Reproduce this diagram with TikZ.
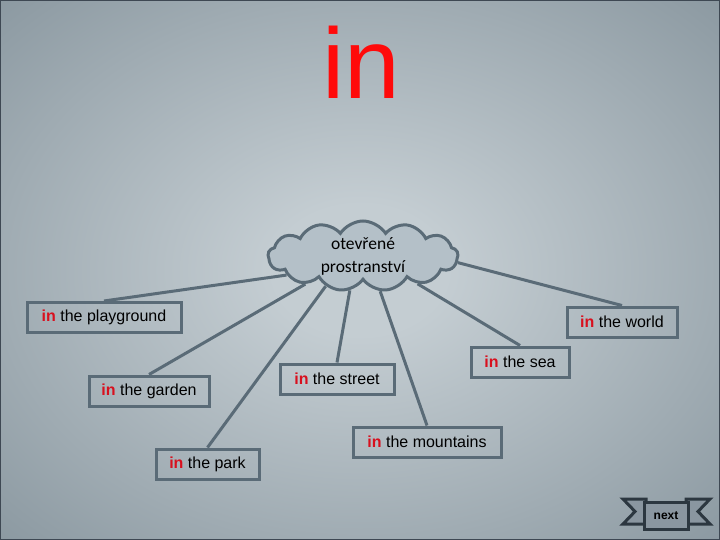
\documentclass[tikz,border=0pt]{standalone}
\usepackage{fontspec}
\setmainfont{Liberation Sans}
\newfontfamily\cloudfont{Carlito}
\usetikzlibrary{shapes.symbols}

\definecolor{bgin}{HTML}{C4CDD2}
\definecolor{bgout}{HTML}{6C7C86}
\definecolor{linec}{HTML}{5A6B77}
\definecolor{puff}{HTML}{B4C0C8}
\definecolor{titlered}{HTML}{FF0A0A}
\definecolor{inred}{HTML}{D8101E}
\definecolor{btnfill}{HTML}{8A96A0}
\definecolor{btnline}{HTML}{2C3740}
\definecolor{framec}{HTML}{3E4853}

\pgfdeclareradialshading{slide}{\pgfpoint{0bp}{0bp}}{color(0bp)=(bgin); color(6bp)=(bgin); color(52bp)=(bgout)}

\newcommand{\inphrase}[1]{{\color{inred}\bfseries in} #1}

\begin{document}
\begin{tikzpicture}[x=1pt, y=-1pt,
	place/.style={draw=linec, line width=3pt, minimum height=30pt, inner sep=0pt,
		font=\fontsize{16}{19}\selectfont},
	link/.style={draw=linec, line width=3pt}]
	\useasboundingbox (0,0) rectangle (720,540);
	% slide background
	\shade[shading=slide] (0,0) rectangle (720,540);
	\draw[framec, line width=2pt] (0,0) rectangle (720,540);
	% title
	\node[anchor=base, inner sep=0pt, text=titlered, font=\fontsize{100}{100}\selectfont] (title) at (361,99) {in};
	% the cloud in the middle
	\node[cloud, cloud puffs=13, cloud puff arc=115, cloud ignores aspect,
		minimum width=190pt, minimum height=70pt, inner sep=0pt,
		fill=puff, draw=linec, line width=3pt, align=center,
		font=\cloudfont\fontsize{17.5}{23}\selectfont] (cloud) at (363,256) {otevřené\\prostranství};
	% the places
	\node[place, minimum width=154pt] (play) at (104,317.5) {\inphrase{the playground}};
	\node[place, minimum width=110pt] (world) at (622,322) {\inphrase{the world}};
	\node[place, minimum width=120pt] (garden) at (149,391) {\inphrase{the garden}};
	\node[place, minimum width=114pt] (street) at (337,379) {\inphrase{the street}};
	\node[place, minimum width=98pt] (sea) at (520,362) {\inphrase{the sea}};
	\node[place, minimum width=148pt] (mount) at (427,442) {\inphrase{the mountains}};
	\node[place, minimum width=103pt] (park) at (207.5,464) {\inphrase{the park}};
	% links from the cloud
	\draw[link] (cloud.194) -- (play.north);
	\draw[link] (cloud.206) -- (garden.north);
	\draw[link] (cloud.219) -- (park.north);
	\draw[link] (cloud.249) -- (street.north);
	\draw[link] (cloud.296) -- (mount.north);
	\draw[link] (cloud.333) -- (sea.north);
	\draw[link] (cloud.356) -- (world.north);
	% next button
	\draw[btnline, fill=btnfill, line width=3pt, line join=miter]
		(623,499) -- (646,499) -- (646,524) -- (623,524) -- (635,511.5) -- cycle;
	\draw[btnline, fill=btnfill, line width=3pt, line join=miter]
		(710,499) -- (686,499) -- (686,524) -- (710,524) -- (698,511.5) -- cycle;
	\node[draw=btnline, fill=btnfill, line width=3pt, minimum width=44pt, minimum height=27pt,
		inner sep=0pt, font=\bfseries\fontsize{12}{14}\selectfont] (next) at (666,515.5) {next};
\end{tikzpicture}
\end{document}
